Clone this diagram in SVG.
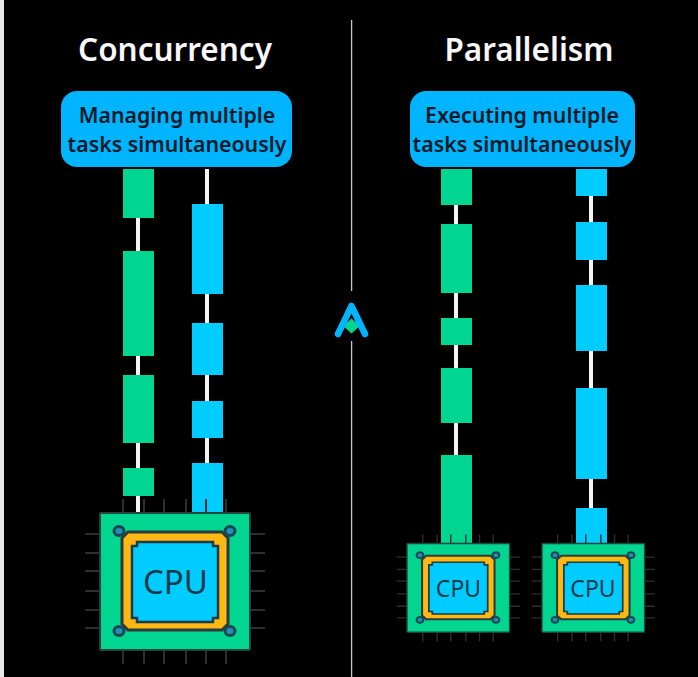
<svg xmlns="http://www.w3.org/2000/svg" width="698" height="677" viewBox="0 0 698 677">
<style>
text{font-family:"Noto Sans","Open Sans","Liberation Sans",sans-serif;text-anchor:middle}
.title{fill:#f7f7f7;font-size:31.500px;font-weight:600}
.sub{fill:#021a28;font-size:21.300px;font-weight:600}
.box{fill:#00b4fd}
.g{fill:#00d68f}
.b{fill:#00ccff}
.wire{stroke:#f4f4f4;stroke-width:4;fill:none}
.div{stroke:#c9c9c9;stroke-width:1.3;fill:none}
.pin{stroke:#2e2e2e;stroke-width:2;fill:none}
.body{fill:#00d68f;stroke:#25443c;stroke-width:2}
.frame{fill:#fdb813;stroke:#2c3a3e;stroke-width:3}
.core{fill:#00ccff;stroke:#1d3a48;stroke-width:2.500}
.screw{fill:#1a94b8;stroke:#1f4650;stroke-width:3}
.cpu{fill:#143a4a;font-weight:400}
</style>
<defs>
<g id="chip">
<path class="pin" d="M23-14V0M44-14V0M64-14V0M86-14V0M106-14V0M126-14V0M23 137v14M44 137v14M64 137v14M86 137v14M106 137v14M126 137v14M-15 21H0M-15 40H0M-15 58H0M-15 78H0M-15 97H0M-15 115H0M150 21h15M150 40h15M150 58h15M150 78h15M150 97h15M150 115h15"/>
<rect class="body" width="150" height="137" rx="1"/>
<path class="frame" d="M28 19H122L128 25V111L122 117H28L22 111V25Z"/>
<path class="core" d="M37 29H113V33H118V105H113V109H37V105H32V33H37Z"/>
<ellipse class="screw" cx="19" cy="18" rx="5" ry="4.500"/>
<ellipse class="screw" cx="130" cy="18" rx="5" ry="4.500"/>
<ellipse class="screw" cx="19" cy="118" rx="5" ry="4.500"/>
<ellipse class="screw" cx="130" cy="118" rx="5" ry="4.500"/>
</g>
</defs>
<rect width="698" height="677" fill="#000"/>
<rect width="4" height="677" fill="#e8e8e8"/>
<g id="connectors">
<path class="wire" d="M138 169V513M207 169V513M456 169V543M591 169V543"/>
<path class="div" d="M351.6 20V291M351.6 341V677"/>
</g>
<g id="title-concurrency"><text class="title" x="175" y="61">Concurrency</text></g>
<g id="title-parallelism"><text class="title" x="529" y="61">Parallelism</text></g>
<g id="box-concurrency">
<rect class="box" x="61" y="91" width="231" height="76" rx="16"/>
<text class="sub" x="177" y="123">Managing multiple</text>
<text class="sub" x="177" y="152">tasks simultaneously</text>
</g>
<g id="box-parallelism">
<rect class="box" x="410" y="91" width="225" height="76" rx="16"/>
<text class="sub" x="522" y="123">Executing multiple</text>
<text class="sub" x="522" y="152">tasks simultaneously</text>
</g>
<g id="thread-1" class="g">
<rect x="123" y="169" width="31" height="49"/><rect x="123" y="251" width="31" height="105"/><rect x="123" y="375" width="31" height="68"/><rect x="123" y="468" width="31" height="28"/>
</g>
<g id="thread-2" class="b">
<rect x="192" y="204" width="31" height="90"/><rect x="192" y="323" width="31" height="52"/><rect x="192" y="401" width="31" height="37"/><rect x="192" y="463" width="31" height="50"/>
</g>
<g id="thread-3" class="g">
<rect x="441" y="169" width="31" height="36"/><rect x="441" y="224" width="31" height="69"/><rect x="441" y="318" width="31" height="27"/><rect x="441" y="368" width="31" height="55"/><rect x="441" y="455" width="31" height="88"/>
</g>
<g id="thread-4" class="b">
<rect x="576" y="169" width="31" height="27"/><rect x="576" y="222" width="31" height="38"/><rect x="576" y="285" width="31" height="66"/><rect x="576" y="388" width="31" height="91"/><rect x="576" y="508" width="31" height="35"/>
</g>
<g id="cpu-concurrency">
<use href="#chip" transform="translate(100 513)"/>
<text class="cpu" x="175.500" y="594" font-size="33">CPU</text>
</g>
<g id="cpu-parallel-1">
<use href="#chip" transform="translate(407 543.500) scale(.684 .647)"/>
<text class="cpu" x="458.500" y="597" font-size="23">CPU</text>
</g>
<g id="cpu-parallel-2">
<use href="#chip" transform="translate(542 543.500) scale(.684 .647)"/>
<text class="cpu" x="593" y="597" font-size="23">CPU</text>
</g>
<g id="logo">
<path d="M344 326L351.500 319L359 326L351.500 333Z" fill="#00d68f" stroke="#00d68f" stroke-linejoin="round"/>
<path d="M338 334L351.500 306L365 334" fill="none" stroke="#00b4fd" stroke-width="6.500" stroke-linecap="round" stroke-linejoin="round"/>
</g>
</svg>
